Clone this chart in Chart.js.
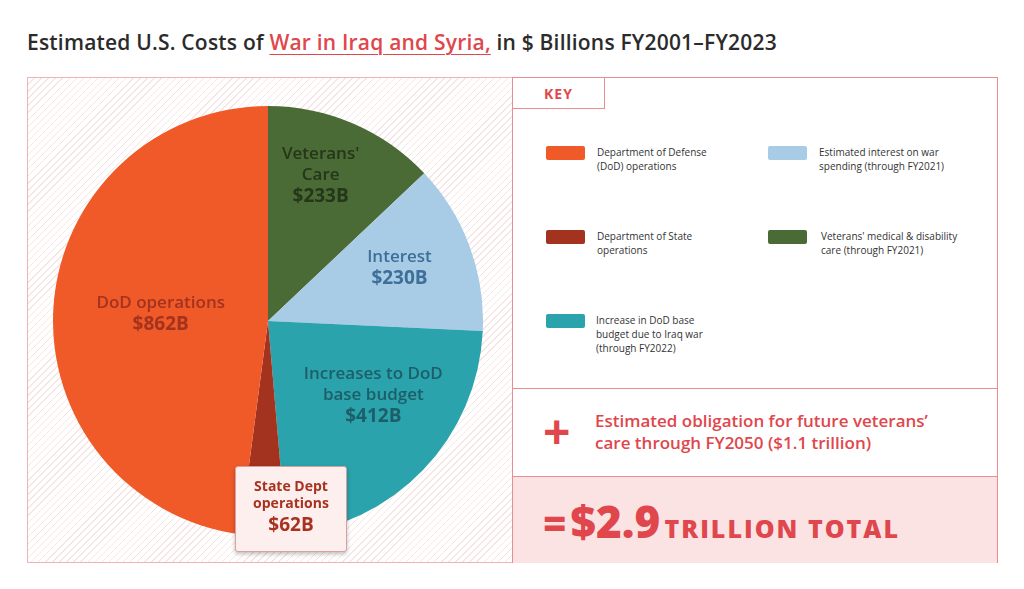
<!DOCTYPE html>
<html>
<head>
<meta charset="utf-8">
<script src="https://cdn.jsdelivr.net/npm/chart.js@4"></script>
<style>
  body { margin:0; width:1024px; height:589px; background:#fff; font-family:"Open Sans", sans-serif; position:relative; overflow:hidden; }
  .title { position:absolute; left:27px; top:28px; font-size:21px; font-weight:600; color:#2b2b2b; letter-spacing:0.2px; }
  .title span { color:#e0474c; text-decoration:underline; text-underline-offset:4px; text-decoration-thickness:1px; }
  .left { position:absolute; left:27px; top:77px; width:485px; height:486px; box-sizing:border-box; border:1px solid #eeb3b5; border-right:none;
    background:repeating-linear-gradient(135deg, #fff 0 4px, #f7e4e4 4px 5px); }
  .right { position:absolute; left:512px; top:77px; width:486px; height:486px; box-sizing:border-box; border:1px solid #e88d90; background:#fff; }
  .key { position:absolute; left:0; top:0; width:92px; height:31px; border-right:1px solid #e88d90; border-bottom:1px solid #e88d90; color:#e0474c; font-weight:700; font-size:14px; line-height:31px; padding-left:31px; box-sizing:border-box; letter-spacing:1px; }
  .item { position:absolute; font-size:10px; color:#333; line-height:14px; }
  .sw { position:absolute; width:39px; height:14px; border-radius:2px; }
  .plus { position:absolute; left:0; top:310px; width:484px; height:88px; border-top:1px solid #e88d90; }
  .plus .p { position:absolute; left:30px; top:18px; font-size:48px; font-weight:700; color:#e0474c; line-height:48px; }
  .plus .t { position:absolute; left:82px; top:21px; font-size:17px; font-weight:600; color:#e0474c; line-height:22px; }
  .tot { position:absolute; left:0; top:398px; width:484px; height:86px; border-top:1px solid #e88d90; background:#fbe3e4; }
  .tot .t { position:absolute; left:30px; top:14px; color:#e0474c; font-weight:800; white-space:nowrap; }
  #wrap { position:absolute; left:53px; top:106px; width:430px; height:430px; }
  .sd { position:absolute; left:235px; top:466px; width:110px; height:84px; background:#fcefee; border:1px solid #d9a0a0; border-radius:3px; box-shadow:0 2px 4px rgba(0,0,0,0.25); text-align:center; color:#a8321f; font-weight:700; }
</style>
</head>
<body>
<div class="title">Estimated U.S. Costs of <span>War in Iraq and Syria,</span> in $ Billions FY2001–FY2023</div>
<div class="left"></div>
<div id="wrap"><canvas id="pie"></canvas></div>
<div class="sd"><div style="font-size:14px;line-height:17px;margin-top:10px">State Dept<br>operations</div><div style="font-size:19px;line-height:26px">$62B</div></div>
<div class="right">
  <div class="key">KEY</div>
  <div class="sw" style="left:33px;top:68px;background:#f05a28"></div>
  <div class="item" style="left:84px;top:67px">Department of Defense<br>(DoD) operations</div>
  <div class="sw" style="left:255px;top:68px;background:#a9cce6"></div>
  <div class="item" style="left:306px;top:67px">Estimated interest on war<br>spending (through FY2021)</div>
  <div class="sw" style="left:33px;top:152px;background:#a3321f"></div>
  <div class="item" style="left:84px;top:151px">Department of State<br>operations</div>
  <div class="sw" style="left:255px;top:152px;background:#4a6b35"></div>
  <div class="item" style="left:308px;top:151px">Veterans' medical &amp; disability<br>care (through FY2021)</div>
  <div class="sw" style="left:33px;top:236px;background:#2aa3ad"></div>
  <div class="item" style="left:83px;top:235px">Increase in DoD base<br>budget due to Iraq war<br>(through FY2022)</div>
  <div class="plus"><div class="p">+</div><div class="t">Estimated obligation for future veterans’<br>care through FY2050 ($1.1 trillion)</div></div>
  <div class="tot"><div class="t"><span style="font-size:40px">=</span> <span style="font-size:44px">$2.9</span> <span style="font-size:25px;letter-spacing:2px">TRILLION TOTAL</span></div></div>
</div>
<script>
const categories = ["Veterans' Care", "Interest", "Increases to DoD base budget", "State Dept operations", "DoD operations"];
const values = [233, 230, 412, 62, 862];
const colors = ['#4a6b35', '#a9cce6', '#2aa3ad', '#a3321f', '#f05a28'];
const labelLines = [["Veterans'", "Care"], ["Interest"], ["Increases to DoD", "base budget"], [], ["DoD operations"]];
const labelColors = ['#25361a', '#3d6f98', '#1d5e68', '', '#a3321f'];

const labelPlugin = {
  id: 'sliceLabels',
  afterDatasetsDraw(chart) {
    const ctx = chart.ctx;
    const radial = [0.72, 0.66, 0.6, 0, 0.5];
    const shift = [-0.06, -0.03, -0.15, 0, 0];
    chart.getDatasetMeta(0).data.forEach((arc, i) => {
      if (!labelLines[i].length) return;
      const mid = (arc.startAngle + arc.endAngle) / 2 + shift[i];
      const r = arc.outerRadius * radial[i];
      const x = arc.x + Math.cos(mid) * r;
      const y = arc.y + Math.sin(mid) * r;
      const lines = labelLines[i].concat(['$' + values[i] + 'B']);
      ctx.save();
      ctx.fillStyle = labelColors[i];
      ctx.textAlign = 'center';
      ctx.textBaseline = 'middle';
      const top = y - (lines.length - 1) * 10.5;
      lines.forEach((l, j) => {
        ctx.font = (j === lines.length - 1 ? '700 19px' : '600 17px') + ' "Open Sans"';
        ctx.fillText(l, x, top + j * 21);
      });
      ctx.restore();
    });
  }
};

new Chart(document.getElementById('pie'), {
  type: 'pie',
  data: { labels: categories, datasets: [{ data: values, backgroundColor: colors, borderWidth: 0 }] },
  options: {
    responsive: true, maintainAspectRatio: false, animation: false,
    plugins: { legend: { display: false }, tooltip: { enabled: false } }
  },
  plugins: [labelPlugin]
});
</script>
</body>
</html>
